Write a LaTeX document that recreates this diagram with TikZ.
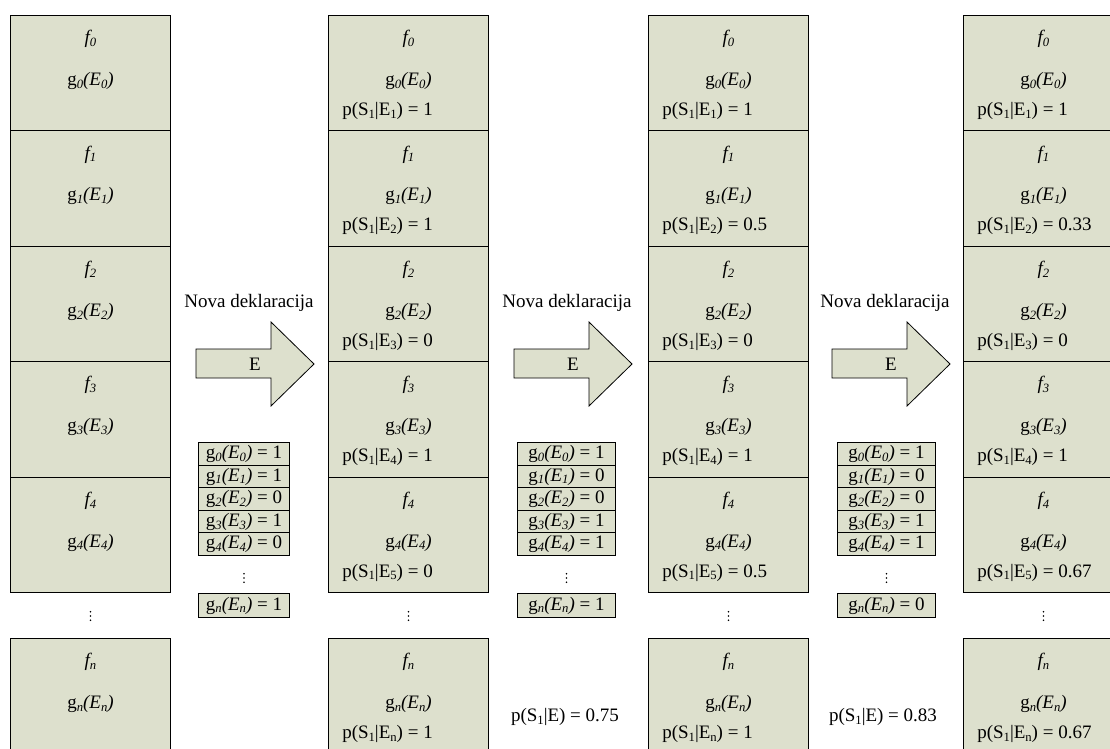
\documentclass[tikz,border=0pt]{standalone}
\usepackage{fontspec}
\setmainfont{Liberation Serif}
\usetikzlibrary{calc}
\definecolor{cellfill}{RGB}{221,224,205}
% lowered subscript in the text font
\newcommand\lsub[1]{\raisebox{-0.32ex}{\fontsize{9.5pt}{10pt}\selectfont #1}}
\newcommand\fx[1]{\textit{f\lsub{#1}}}
\newcommand\gx[1]{g\textit{\lsub{#1}(E\lsub{#1})}}
\newcommand\px[2]{p(S\lsub{1}|E\lsub{#1}) = #2}
\begin{document}
\begin{tikzpicture}[x=0.75pt,y=-0.75pt,
  every node/.style={font=\fontsize{14.25pt}{17pt}\selectfont,inner sep=0pt},
  cell/.style={draw=black,fill=cellfill,line width=0.75pt,minimum width=120pt,
    minimum height=86.55pt,anchor=north west},
  gbox/.style={draw=black,fill=cellfill,line width=0.75pt,minimum height=16.95pt,anchor=north west},
  gtext/.style={text height=9.5pt,text depth=2.5pt},
  arrowshape/.style={draw=black,fill=cellfill,line width=0.6pt,line join=miter},
  plabel/.style={anchor=west}]
\useasboundingbox (0,0) rectangle (1110,749);

% vertical ellipsis made of three small dots around a named coordinate
\newcommand\vdotsat[1]{%
  \foreach \d in {-4.2,0,4.2}{\fill[black] ($(#1)+(0,\d)$) circle[radius=0.65pt];}}

% four columns of cells f_0 ... f_4, then a gap and the f_n cell
\foreach \c/\cx in {1/10,2/328,3/648,4/963}{
  \foreach \r in {0,...,4}{
    \pgfmathsetmacro\cy{15+\r*115.4}
    \node[cell] (c\c-\r) at (\cx,\cy) {};
    \node (f\c-\r) at ($(c\c-\r.north)+(0,24)$) {\fx{\r}};
    \node (g\c-\r) at ($(c\c-\r.north)+(0,66)$) {\gx{\r}};
  }
  \coordinate (dots\c) at ($(c\c-4.south)+(0,23)$);
  \vdotsat{dots\c}
  \node[cell] (c\c-n) at (\cx,638) {};
  \node (f\c-n) at ($(c\c-n.north)+(0,24)$) {\fx{n}};
  \node (g\c-n) at ($(c\c-n.north)+(0,66)$) {\gx{n}};
}

% conditional probabilities inside the cells
\foreach \c/\r/\v in {2/0/1,2/1/1,2/2/0,2/3/1,2/4/0,
                      3/0/1,3/1/0.5,3/2/0,3/3/1,3/4/0.5,
                      4/0/1,4/1/0.33,4/2/0,4/3/1,4/4/0.67}{
  \pgfmathtruncatemacro\e{\r+1}
  \node[plabel] (p\c-\r) at ($(c\c-\r.north west)+(14,96)$) {\px{\e}{\v}};
}
\foreach \c/\v in {2/1,3/1,4/0.67}{
  \node[plabel] (p\c-n) at ($(c\c-n.north west)+(14,96)$) {p(S\lsub{1}|E\lsub{n}) = \v};
}

% block arrows for each new declaration
\foreach \i/\bx in {1/196,2/514,3/832}{
  \draw[arrowshape] (\bx,349) -- (\bx+75,349) -- (\bx+75,322) -- (\bx+118,364)
    -- (\bx+75,406) -- (\bx+75,378) -- (\bx,378) -- cycle;
  \node (e\i) at (\bx+59,364) {E};
  \node (nd\i) at (\bx+53,303) {Nova deklaracija};
}

% evaluated g values for each declaration
\foreach \l/\lx/\w/\vals in {1/198/68.25pt/{1,1,0,1,0,1},
                              2/517/73.5pt/{1,0,0,1,1,1},
                              3/837/73.5pt/{1,0,0,1,1,0}}{
  \foreach \v [count=\k from 0] in \vals{
    \ifnum\k<5
      \pgfmathsetmacro\gy{442+\k*22.6}
      \node[gbox,minimum width=\w] (v\l-\k) at (\lx,\gy) {};
      \node[gtext] (vt\l-\k) at (v\l-\k.center) {\gx{\k} = \v};
    \else
      \node[gbox,minimum width=\w,minimum height=18pt] (v\l-n) at (\lx,593) {};
      \node[gtext] (vt\l-n) at (v\l-n.center) {\gx{n} = \v};
    \fi
  }
  \coordinate (vd\l) at ($(v\l-4.south)+(0,22)$);
  \vdotsat{vd\l}
}

\node (ps2) at (565,717) {p(S\lsub{1}|E) = 0.75};
\node (ps3) at (883,717) {p(S\lsub{1}|E) = 0.83};
\end{tikzpicture}
\end{document}
